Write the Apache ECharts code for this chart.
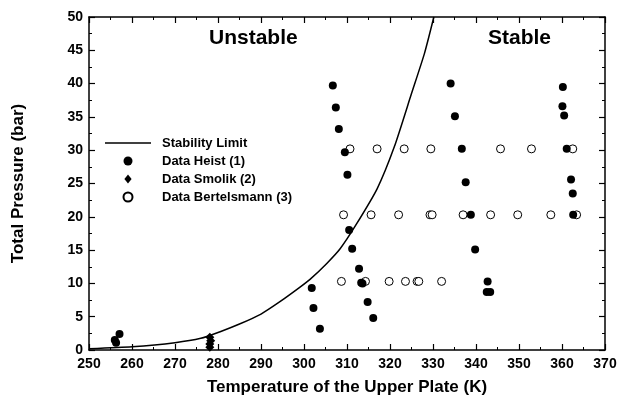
<!DOCTYPE html>
<html>
<head>
<meta charset="utf-8">
<script src="https://cdn.jsdelivr.net/npm/echarts@6/dist/echarts.min.js"></script>
<style>
  html, body { margin: 0; padding: 0; background: #fff; }
  #chart { width: 623px; height: 408px; }
</style>
</head>
<body>
<div id="chart"></div>
<script>
// stability limit
var curveT = [250, 260, 270, 276, 280.5, 285, 290, 294.4, 299, 301.4, 305.3, 308.4, 312, 317, 321, 325, 328, 330.2];
var curveP = [0.2, 0.5, 1.1, 1.75, 2.75, 3.9, 5.4, 7.25, 9.4, 10.6, 13.0, 15.2, 18.7, 24.2, 30.5, 38.5, 44.5, 50];

// Data Heist (1)
var heistT = [256.0, 257.1, 256.3, 301.8, 302.2, 303.7,
  306.7, 307.4, 308.1, 309.5, 310.1,
  310.5, 311.2, 312.8, 313.6, 313.3, 314.8, 316.1,
  334.1, 335.1, 336.7, 337.6, 338.8, 339.8, 342.7, 342.5, 343.3,
  360.2, 360.1, 360.5, 361.1, 362.1, 362.5, 362.6];
var heistP = [1.5, 2.4, 1.1, 9.3, 6.3, 3.2,
  39.7, 36.4, 33.2, 29.7, 26.3,
  18.0, 15.2, 12.2, 10.0, 10.1, 7.2, 4.8,
  40.0, 35.1, 30.2, 25.2, 20.3, 15.1, 10.3, 8.7, 8.7,
  39.5, 36.6, 35.2, 30.2, 25.6, 23.5, 20.3];

// Data Smolik (2)
var smolikT = [278.1, 278.1, 278.3, 278.1];
var smolikP = [0.4, 0.9, 1.4, 1.9];

// Data Bertelsmann (3)
var bertT = [310.7, 317.0, 323.3, 329.5, 345.7, 352.9, 362.5,
  309.2, 315.6, 322.0, 329.3, 329.8, 337.0, 343.4, 349.7, 357.4, 363.4,
  308.7, 314.3, 319.8, 323.6, 326.3, 326.7, 332.0];
var bertP = [30.2, 30.2, 30.2, 30.2, 30.2, 30.2, 30.2,
  20.3, 20.3, 20.3, 20.3, 20.3, 20.3, 20.3, 20.3, 20.3, 20.3,
  10.3, 10.3, 10.3, 10.3, 10.3, 10.3, 10.3];

function pairs(xs, ys) {
  return xs.map(function (x, i) { return [x, ys[i]]; });
}

var myChart = echarts.init(document.getElementById('chart'));
var font = 'Liberation Sans, Arial, sans-serif';

var axisCommon = {
  axisLine: { show: true, onZero: false, lineStyle: { color: '#000', width: 1.5 } },
  axisTick: { show: true, inside: true, length: 6, lineStyle: { color: '#000', width: 1.2 } },
  minorTick: { show: true, splitNumber: 2, length: 3, lineStyle: { color: '#000', width: 1 } },
  splitLine: { show: false }
};

var option = {
  backgroundColor: '#fff',
  animation: false,
  grid: { left: 89, right: 18, top: 17, bottom: 58 },
  legend: {
    orient: 'vertical',
    left: 100,
    top: 131,
    itemWidth: 46,
    itemHeight: 9,
    itemGap: 4,
    symbolKeepAspect: true,
    textStyle: {
      fontFamily: font, fontWeight: 'bold', fontSize: 13, color: '#000',
      lineHeight: 14, padding: [0, 0, 0, 6]
    },
    data: [
      { name: 'Stability Limit', icon: 'path://M0,0H46V1.5H0Z' },
      { name: 'Data Heist (1)', icon: 'circle' },
      { name: 'Data Smolik (2)', icon: 'path://M4,0L8,5L4,10L0,5Z' },
      { name: 'Data Bertelsmann (3)', icon: 'circle' }
    ]
  },
  xAxis: [
    Object.assign({}, axisCommon, {
      type: 'value', min: 250, max: 370, interval: 10,
      name: 'Temperature of the Upper Plate (K)',
      nameLocation: 'middle', nameGap: 29,
      nameTextStyle: { fontFamily: font, fontWeight: 'bold', fontSize: 17, color: '#000' },
      axisLabel: { fontFamily: font, fontWeight: 'bold', fontSize: 14, color: '#000', margin: 7 }
    }),
    Object.assign({}, axisCommon, {
      type: 'value', min: 250, max: 370, interval: 10, position: 'top',
      axisLabel: { show: false }
    })
  ],
  yAxis: [
    Object.assign({}, axisCommon, {
      type: 'value', min: 0, max: 50, interval: 5,
      name: 'Total Pressure (bar)',
      nameLocation: 'middle', nameGap: 62,
      nameTextStyle: { fontFamily: font, fontWeight: 'bold', fontSize: 17, color: '#000' },
      axisLabel: { fontFamily: font, fontWeight: 'bold', fontSize: 14, color: '#000', margin: 6 }
    }),
    Object.assign({}, axisCommon, {
      type: 'value', min: 0, max: 50, interval: 5, position: 'right',
      axisLabel: { show: false }
    })
  ],
  graphic: [
    { type: 'text', left: 209, top: 28, style: { text: 'Unstable', fontFamily: font, fontWeight: 'bold', fontSize: 21, fill: '#000' } },
    { type: 'text', left: 488, top: 28, style: { text: 'Stable', fontFamily: font, fontWeight: 'bold', fontSize: 21, fill: '#000' } }
  ],
  series: [
    {
      name: 'Data Bertelsmann (3)',
      type: 'scatter',
      symbol: 'circle',
      symbolSize: 8,
      itemStyle: { color: '#fff', borderColor: '#000', borderWidth: 1, opacity: 1 },
      data: pairs(bertT, bertP),
      z: 2
    },
    {
      name: 'Stability Limit',
      type: 'line',
      smooth: 0.2,
      symbol: 'none',
      lineStyle: { color: '#000', width: 1.5 },
      itemStyle: { color: '#000' },
      data: pairs(curveT, curveP),
      z: 3
    },
    {
      name: 'Data Heist (1)',
      type: 'scatter',
      symbol: 'circle',
      symbolSize: 8,
      itemStyle: { color: '#000', opacity: 1 },
      data: pairs(heistT, heistP),
      z: 4
    },
    {
      name: 'Data Smolik (2)',
      type: 'scatter',
      symbol: 'diamond',
      symbolSize: 9,
      itemStyle: { color: '#000', opacity: 1 },
      data: pairs(smolikT, smolikP),
      z: 4
    }
  ]
};

myChart.setOption(option);
</script>
</body>
</html>
